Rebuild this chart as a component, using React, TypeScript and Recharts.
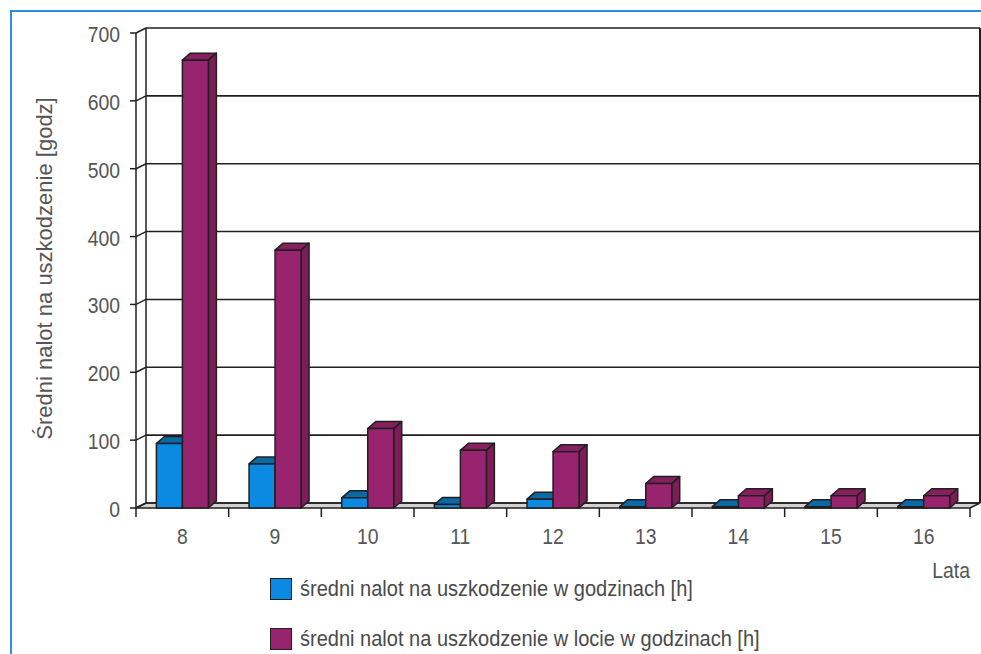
import { BarChart, Bar, XAxis, YAxis, CartesianGrid, Legend } from "recharts";

// lata eksploatacji
const years = ["8", "9", "10", "11", "12", "13", "14", "15", "16"];
// średni nalot na uszkodzenie w godzinach [h]
const hoursTotal = [95, 65, 15, 5, 13, 2, 2, 2, 2];
// średni nalot na uszkodzenie w locie w godzinach [h]
const hoursFlight = [660, 380, 117, 85, 83, 36, 18, 18, 18];
const yTicks = [0, 100, 200, 300, 400, 500, 600, 700];

const seriesNames = [
  "średni nalot na uszkodzenie w godzinach [h]",
  "średni nalot na uszkodzenie w locie w godzinach [h]",
];

const data = years.map((year, i) => ({
  year,
  total: hoursTotal[i],
  flight: hoursFlight[i],
}));

const FONT = '"Liberation Sans", Arial, sans-serif';
const TEXT = "#555";
const EDGE = "#231f20";
const WALL_DX = 10;
const WALL_DY = 5;
const BAR_DX = 8;
const BAR_DY = 7;
const SQUASH = 0.88;

function WallLine(p: any) {
  const { x1, x2, y1, y, height, index } = p;
  const isBottom = Math.abs(y1 - (y + height)) < 1;
  const by = y1 - WALL_DY;
  return (
    <g key={`wall-${index}`}>
      {isBottom && (
        <>
          <polygon
            points={`${x1},${y1} ${x2},${y1} ${x2 + WALL_DX},${by} ${x1 + WALL_DX},${by}`}
            fill="#d2d2d2"
            stroke={EDGE}
            strokeWidth={1.5}
          />
          <line x1={x1 + WALL_DX} y1={y - WALL_DY} x2={x1 + WALL_DX} y2={by} stroke={EDGE} strokeWidth={1.5} />
          <line x1={x2 + WALL_DX} y1={y - WALL_DY} x2={x2 + WALL_DX} y2={by} stroke={EDGE} strokeWidth={2} />
        </>
      )}
      <line x1={x1} y1={y1} x2={x1 + WALL_DX} y2={by} stroke={EDGE} strokeWidth={1.5} />
      <line x1={x1 + WALL_DX} y1={by} x2={x2 + WALL_DX} y2={by} stroke={EDGE} strokeWidth={1.6} />
    </g>
  );
}

function Box(props: any) {
  const { x, y, width, height, fill, topFill, sideFill } = props;
  if (height == null || width == null) return null;
  const r = x + width;
  const b = y + height;
  return (
    <g stroke={EDGE} strokeWidth={1.5} strokeLinejoin="round">
      <polygon
        points={`${x},${y} ${x + BAR_DX},${y - BAR_DY} ${r + BAR_DX},${y - BAR_DY} ${r},${y}`}
        fill={topFill}
      />
      <polygon
        points={`${r},${y} ${r + BAR_DX},${y - BAR_DY} ${r + BAR_DX},${b - BAR_DY} ${r},${b}`}
        fill={sideFill}
      />
      <rect x={x} y={y} width={width} height={height} fill={fill} />
    </g>
  );
}

function YTick(props: any) {
  const { x, y, payload } = props;
  return (
    <g>
      <line x1={x - 6} y1={y} x2={x} y2={y} stroke={EDGE} strokeWidth={1.5} />
      <text
        transform={`translate(${x - 16},${y + 9}) scale(${SQUASH},1)`}
        textAnchor="end"
        fontSize={22}
        fontFamily={FONT}
        fill={TEXT}
      >
        {payload.value}
      </text>
    </g>
  );
}

function XTick(props: any) {
  const { x, y, payload, width, index } = props;
  const half = width / years.length / 2;
  const last = index === years.length - 1;
  return (
    <g>
      <line x1={x - half} y1={y} x2={x - half} y2={y + 9} stroke={EDGE} strokeWidth={1.5} />
      {last && <line x1={x + half} y1={y} x2={x + half} y2={y + 9} stroke={EDGE} strokeWidth={1.5} />}
      <text
        transform={`translate(${x},${y + 36}) scale(${SQUASH},1)`}
        textAnchor="middle"
        fontSize={22}
        fontFamily={FONT}
        fill={TEXT}
      >
        {payload.value}
      </text>
    </g>
  );
}

function YLabel(props: any) {
  const { viewBox } = props;
  const cx = viewBox.x + 34;
  const cy = viewBox.y + viewBox.height / 2 - 2;
  return (
    <text
      x={cx}
      y={cy}
      transform={`rotate(-90, ${cx}, ${cy})`}
      textAnchor="middle"
      dominantBaseline="central"
      fontSize={22}
      fontFamily={FONT}
      fill={TEXT}
    >
      Średni nalot na uszkodzenie [godz]
    </text>
  );
}

function XLabel(props: any) {
  const { viewBox } = props;
  const x = viewBox.x + viewBox.width;
  return (
    <text
      transform={`translate(${x},${viewBox.y + 70}) scale(${SQUASH},1)`}
      textAnchor="end"
      fontSize={22}
      fontFamily={FONT}
      fill={TEXT}
    >
      Lata
    </text>
  );
}

const swatches = ["#0a8ae0", "#98246f"];

function LegendBox() {
  return (
    <div style={{ fontFamily: FONT }}>
      {seriesNames.map((name, i) => (
        <div key={name} style={{ display: "flex", alignItems: "center", height: 24, marginBottom: 26 }}>
          <div
            style={{
              width: 20,
              height: 20,
              background: swatches[i],
              border: `1.5px solid ${EDGE}`,
              marginRight: 8,
            }}
          />
          <span
            style={{
              fontSize: 22,
              color: "#4a4a4a",
              whiteSpace: "nowrap",
              display: "inline-block",
              transform: "scale(0.91,1)",
              transformOrigin: "left center",
            }}
          >
            {name}
          </span>
        </div>
      ))}
    </div>
  );
}

export default function App() {
  return (
    <div style={{ position: "absolute", left: 0, top: 0, width: 981, height: 654, overflow: "hidden", background: "#fff" }}>
      <div
        style={{
          position: "absolute",
          left: 10,
          top: 10,
          width: 971,
          height: 644,
          boxSizing: "border-box",
          borderLeft: "2px solid #2a90e2",
          borderTop: "2px solid #2a90e2",
        }}
      />
      <div style={{ position: "absolute", left: 0, top: 0 }}>
        <BarChart
          width={981}
          height={654}
          data={data}
          margin={{ top: 33, right: 11, left: 10, bottom: 106 }}
          barCategoryGap="22%"
          barGap={0}
        >
          <CartesianGrid vertical={false} horizontal={(p: any) => <WallLine {...p} />} />
          <XAxis
            dataKey="year"
            height={40}
            tickSize={0}
            tickMargin={0}
            tickLine={false}
            axisLine={false}
            tick={<XTick />}
            interval={0}
            label={<XLabel />}
          />
          <YAxis
            domain={[0, 700]}
            ticks={yTicks}
            width={126}
            tickSize={0}
            tickMargin={0}
            tickLine={false}
            axisLine={{ stroke: EDGE, strokeWidth: 1.5 }}
            tick={<YTick />}
            label={<YLabel />}
          />
          <Legend
            layout="vertical"
            align="center"
            verticalAlign="middle"
            wrapperStyle={{ left: 270, top: 577, width: 650 }}
            content={() => <LegendBox />}
          />
          <Bar
            dataKey="total"
            name={seriesNames[0]}
            fill="#0a8ae0"
            isAnimationActive={false}
            shape={(p: any) => <Box {...p} topFill="#0b6aa6" sideFill="#0a5f96" />}
          />
          <Bar
            dataKey="flight"
            name={seriesNames[1]}
            fill="#98246f"
            isAnimationActive={false}
            shape={(p: any) => <Box {...p} topFill="#86205f" sideFill="#7c1d59" />}
          />
        </BarChart>
      </div>
    </div>
  );
}
